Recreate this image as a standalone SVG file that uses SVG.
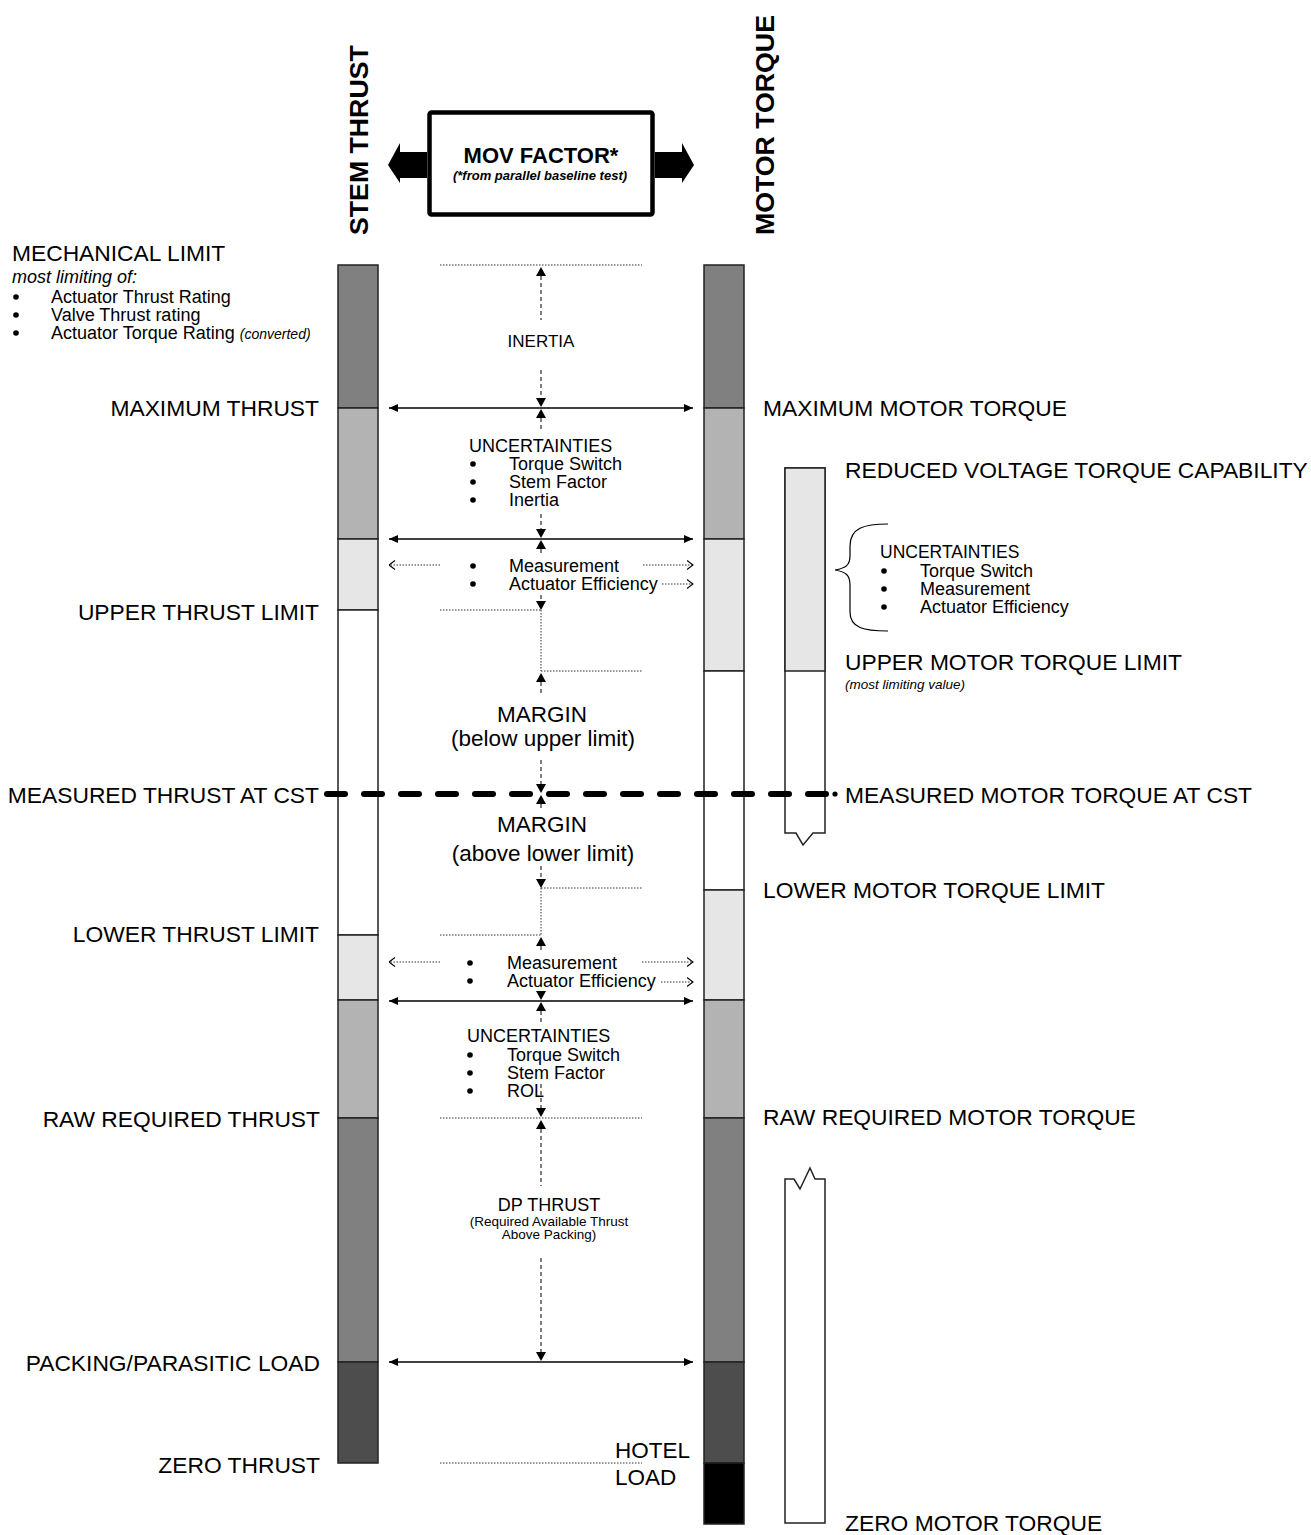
<svg xmlns="http://www.w3.org/2000/svg" width="1311" height="1535" viewBox="0 0 1311 1535">
<defs>
<style>
text{font-family:"Liberation Sans",Arial,sans-serif;fill:#000}
.big{font-size:22.8px}
.md{font-size:18px}
.sm17{font-size:17px}
.it{font-style:italic}
.mid{text-anchor:middle}
.end{text-anchor:end}
.bar{stroke:#222;stroke-width:1.5}
.g1{fill:#808080}.g2{fill:#b3b3b3}.g3{fill:#e6e6e6}.g0{fill:#fff}.g4{fill:#4d4d4d}.g5{fill:#000}
.dot{stroke:#333;stroke-width:1;stroke-dasharray:1.5 1.5;fill:none}
.dash{stroke:#555;stroke-width:1.5;stroke-dasharray:4 3;fill:none}
.sol{stroke:#000;stroke-width:1.3;fill:none}
.head{fill:#000}
</style>
<marker id="ah" viewBox="0 0 9 8" refX="9" refY="4" markerWidth="9" markerHeight="8" markerUnits="userSpaceOnUse" orient="auto-start-reverse"><path d="M0,0 L9,4 L0,8 z" fill="#000"/></marker>
<marker id="ch" viewBox="0 0 7 10" refX="6.5" refY="5" markerWidth="7" markerHeight="10" markerUnits="userSpaceOnUse" orient="auto"><path d="M0.5,0.5 L6.5,5 L0.5,9.5" fill="none" stroke="#000" stroke-width="1.1"/></marker>
</defs>
<rect width="1311" height="1535" fill="#fff"/>

<g id="stem-thrust-bar">
<rect class="bar g1" x="338" y="265" width="40" height="143"/>
<rect class="bar g2" x="338" y="408" width="40" height="131"/>
<rect class="bar g3" x="338" y="539" width="40" height="71"/>
<rect class="bar g0" x="338" y="610" width="40" height="325"/>
<rect class="bar g3" x="338" y="935" width="40" height="65"/>
<rect class="bar g2" x="338" y="1000" width="40" height="118"/>
<rect class="bar g1" x="338" y="1118" width="40" height="244"/>
<rect class="bar g4" x="338" y="1362" width="40" height="101"/>
</g>

<g id="motor-torque-bar">
<rect class="bar g1" x="704" y="265" width="40" height="143"/>
<rect class="bar g2" x="704" y="408" width="40" height="131"/>
<rect class="bar g3" x="704" y="539" width="40" height="132"/>
<rect class="bar g0" x="704" y="671" width="40" height="219"/>
<rect class="bar g3" x="704" y="890" width="40" height="110"/>
<rect class="bar g2" x="704" y="1000" width="40" height="118"/>
<rect class="bar g1" x="704" y="1118" width="40" height="244"/>
<rect class="bar g4" x="704" y="1362" width="40" height="101"/>
<rect class="bar g5" x="704" y="1463" width="40" height="61"/>
</g>

<g id="reduced-voltage-bar">
<path class="bar g0" d="M785,468 V833 H796 L803,845 L813,833 H825 V468 Z"/>
<rect class="bar g3" x="785" y="468" width="40" height="203"/>
</g>

<g id="zero-torque-bar">
<path class="bar g0" d="M785,1523 V1179 H794 L800,1189 L810,1168 L815,1179 H825 V1523 Z"/>
</g>

<g id="mov-factor">
<rect x="429.5" y="112.5" width="223" height="102" rx="2" fill="#fff" stroke="#000" stroke-width="4.5"/>
<polygon points="427,152 400,152 400,143 388,165 400,183 400,178 427,178" fill="#000"/>
<polygon points="655,152 682,152 682,143 694,165 682,183 682,178 655,178" fill="#000"/>
<text x="541" y="163" class="mid" style="font-size:22px;font-weight:bold">MOV FACTOR*</text>
<text x="540" y="180" class="mid" style="font-size:13px;font-weight:bold;font-style:italic">(*from parallel baseline test)</text>
</g>

<g id="titles">
<text transform="translate(368,235) rotate(-90)" style="font-size:26.7px;font-weight:bold">STEM THRUST</text>
<text transform="translate(774,235) rotate(-90)" style="font-size:26.7px;font-weight:bold">MOTOR TORQUE</text>
</g>

<g id="left-labels">
<text x="12" y="261" class="big">MECHANICAL LIMIT</text>
<text x="12" y="283" class="md it">most limiting of:</text>
<circle cx="16" cy="297" r="2.8"/>
<circle cx="16" cy="315" r="2.8"/>
<circle cx="16" cy="333" r="2.8"/>
<text x="51" y="303" class="md">Actuator Thrust Rating</text>
<text x="51" y="321" class="md">Valve Thrust rating</text>
<text x="51" y="339" class="md">Actuator Torque Rating <tspan class="it" style="font-size:14px">(converted)</tspan></text>
<text x="319" y="416" class="big end">MAXIMUM THRUST</text>
<text x="319" y="620" class="big end">UPPER THRUST LIMIT</text>
<text x="319" y="803" class="big end">MEASURED THRUST AT CST</text>
<text x="319" y="942" class="big end">LOWER THRUST LIMIT</text>
<text x="320" y="1127" class="big end">RAW REQUIRED THRUST</text>
<text x="320" y="1371" class="big end">PACKING/PARASITIC LOAD</text>
<text x="320" y="1473" class="big end">ZERO THRUST</text>
</g>

<g id="right-labels">
<text x="763" y="416" class="big">MAXIMUM MOTOR TORQUE</text>
<text x="845" y="478" class="big">REDUCED VOLTAGE TORQUE CAPABILITY</text>
<path d="M888,524 C864,524 850,528 850,546 V556 C850,565 846,568 835,570 C846,572 850,575 850,585 V612 C850,628 864,631 888,631" fill="none" stroke="#000" stroke-width="1.2"/>
<text x="880" y="558" style="font-size:17.5px">UNCERTAINTIES</text>
<circle cx="884" cy="571" r="2.8"/>
<circle cx="884" cy="589" r="2.8"/>
<circle cx="884" cy="607" r="2.8"/>
<text x="920" y="577" class="md">Torque Switch</text>
<text x="920" y="595" class="md">Measurement</text>
<text x="920" y="613" class="md">Actuator Efficiency</text>
<text x="845" y="670" class="big">UPPER MOTOR TORQUE LIMIT</text>
<text x="845" y="689" class="it" style="font-size:13.5px">(most limiting value)</text>
<text x="845" y="803" class="big">MEASURED MOTOR TORQUE AT CST</text>
<text x="763" y="898" class="big">LOWER MOTOR TORQUE LIMIT</text>
<text x="763" y="1125" class="big">RAW REQUIRED MOTOR TORQUE</text>
<text x="845" y="1531" class="big">ZERO MOTOR TORQUE</text>
</g>

<g id="center-labels">
<text x="541" y="347" class="sm17 mid">INERTIA</text>
<text x="469" y="452" class="md">UNCERTAINTIES</text>
<circle cx="473" cy="464" r="2.8"/>
<circle cx="473" cy="482" r="2.8"/>
<circle cx="473" cy="500" r="2.8"/>
<text x="509" y="470" class="md">Torque Switch</text>
<text x="509" y="488" class="md">Stem Factor</text>
<text x="509" y="506" class="md">Inertia</text>
<circle cx="473" cy="566" r="2.8"/>
<circle cx="473" cy="584" r="2.8"/>
<text x="509" y="572" class="md">Measurement</text>
<text x="509" y="590" class="md">Actuator Efficiency</text>
<text x="542" y="722" class="mid" style="font-size:22.5px">MARGIN</text>
<text x="543" y="746" class="mid" style="font-size:22.5px">(below upper limit)</text>
<text x="542" y="832" class="mid" style="font-size:22.5px">MARGIN</text>
<text x="543" y="861" class="mid" style="font-size:22.5px">(above lower limit)</text>
<circle cx="470" cy="963" r="2.8"/>
<circle cx="470" cy="981" r="2.8"/>
<text x="507" y="969" class="md">Measurement</text>
<text x="507" y="987" class="md">Actuator Efficiency</text>
<text x="467" y="1042" class="md">UNCERTAINTIES</text>
<circle cx="470" cy="1055" r="2.8"/>
<circle cx="470" cy="1073" r="2.8"/>
<circle cx="470" cy="1091" r="2.8"/>
<text x="507" y="1061" class="md">Torque Switch</text>
<text x="507" y="1079" class="md">Stem Factor</text>
<text x="507" y="1097" class="md">ROL</text>
<text x="549" y="1211" class="mid" style="font-size:18px">DP THRUST</text>
<text x="549" y="1226" class="mid" style="font-size:13.5px">(Required Available Thrust</text>
<text x="549" y="1239" class="mid" style="font-size:13.5px">Above Packing)</text>
<text x="615" y="1458" style="font-size:22.5px">HOTEL</text>
<text x="615" y="1485" style="font-size:22.5px">LOAD</text>
</g>

<g id="connectors">
<path class="dot" d="M440,265 H642 M440,610 H541 M541,671 H642 M541,888 H642 M440,935 H541 M440,1118 H642 M440,1463 H642"/>
<path class="dot" d="M541,610 V671 M541,888 V935"/>
<path class="dash" d="M541,276 V320 M541,370 V399 M541,418 V432 M541,514 V530 M541,549 V556 M541,595 V602 M541,682 V696 M541,760 V785 M541,804 V811 M541,866 V880 M541,946 V952 M541,1011 V1024 M541,1084 V1109 M541,1129 V1186 M541,1258 V1353"/>
<g class="head">
<polygon points="541,267 536,276 546,276"/>
<polygon points="541,407 536,398 546,398"/>
<polygon points="541,409 536,418 546,418"/>
<polygon points="541,538 536,529 546,529"/>
<polygon points="541,540 536,549 546,549"/>
<polygon points="541,610 536,601 546,601"/>
<polygon points="541,673 536,682 546,682"/>
<polygon points="541,793 536,784 546,784"/>
<polygon points="541,795 536,804 546,804"/>
<polygon points="541,888 536,879 546,879"/>
<polygon points="541,937 536,946 546,946"/>
<polygon points="541,1000 536,991 546,991"/>
<polygon points="541,1002 536,1011 546,1011"/>
<polygon points="541,1117 536,1108 546,1108"/>
<polygon points="541,1120 536,1129 546,1129"/>
<polygon points="541,1361 536,1352 546,1352"/>
</g>
<path class="sol" d="M389,408 H693" marker-start="url(#ah)" marker-end="url(#ah)"/>
<path class="sol" d="M389,539 H693" marker-start="url(#ah)" marker-end="url(#ah)"/>
<path class="sol" d="M389,1001 H693" marker-start="url(#ah)" marker-end="url(#ah)"/>
<path class="sol" d="M389,1362 H693" marker-start="url(#ah)" marker-end="url(#ah)"/>
<path class="dot" d="M440,565 H389" marker-end="url(#ch)"/>
<path class="dot" d="M643,565 H693" marker-end="url(#ch)"/>
<path class="dot" d="M662,584 H693" marker-end="url(#ch)"/>
<path class="dot" d="M440,962 H389" marker-end="url(#ch)"/>
<path class="dot" d="M642,962 H693" marker-end="url(#ch)"/>
<path class="dot" d="M661,982 H693" marker-end="url(#ch)"/>
<path d="M327,794 H826" fill="none" stroke="#000" stroke-width="6" stroke-linecap="round" stroke-dasharray="18 19"/>
<circle cx="835" cy="794" r="2.6"/>
</g>
</svg>
